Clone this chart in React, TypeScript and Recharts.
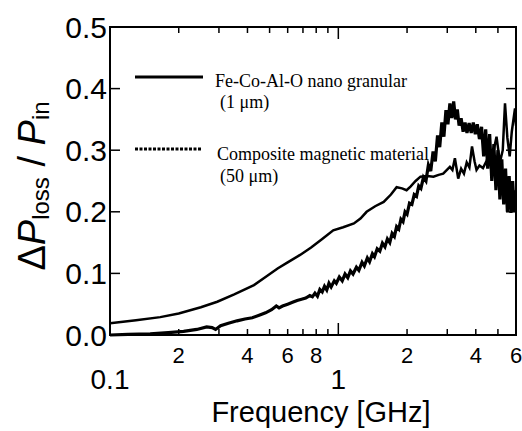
import React from "react";
import {
  LineChart,
  Line,
  XAxis,
  YAxis,
  ReferenceArea,
  Legend,
  Label,
} from "recharts";

// Fe-Co-Al-O nano granular (1 um) - smooth curve
const FREQ_A = [
  0.1, 0.13, 0.166, 0.2, 0.25, 0.295, 0.35, 0.427, 0.48, 0.542, 0.6, 0.68, 0.76,
  0.85, 0.95, 1.05, 1.17, 1.25, 1.33, 1.45, 1.58, 1.7, 1.8, 1.9, 1.99, 2.07, 2.18,
  2.29, 2.45, 2.61, 2.75, 2.88, 3.08, 3.16, 3.24, 3.35, 3.45, 3.55, 3.65, 3.75,
  3.85, 3.95, 4.03, 4.15, 4.3, 4.45, 4.6, 4.7, 4.93, 5.1, 5.25, 5.37, 5.5, 5.63,
  5.75, 5.94, 6.0,
];
const LOSS_A = [
  0.019, 0.024, 0.029, 0.035, 0.045, 0.054, 0.066, 0.081, 0.094, 0.108, 0.118,
  0.13, 0.142, 0.156, 0.17, 0.175, 0.181, 0.189, 0.2, 0.209, 0.216, 0.228, 0.24,
  0.238, 0.235, 0.241, 0.25, 0.257, 0.258, 0.257, 0.26, 0.262, 0.273, 0.268,
  0.287, 0.254, 0.27, 0.262, 0.28, 0.272, 0.306, 0.282, 0.268, 0.275, 0.271,
  0.282, 0.295, 0.285, 0.322, 0.28, 0.3, 0.376, 0.32, 0.29, 0.33, 0.368, 0.34,
];

// Composite magnetic material (50 um) - rippled curve
const FREQ_B = [
  0.1, 0.12, 0.15, 0.18, 0.21, 0.24, 0.265, 0.28, 0.29, 0.305, 0.33, 0.36, 0.39,
  0.42, 0.45, 0.48, 0.51, 0.535, 0.55, 0.57, 0.6, 0.63, 0.66, 0.69, 0.72, 0.75,
  0.77, 0.79, 0.81, 0.83, 0.85, 0.87, 0.89, 0.91, 0.93, 0.96, 0.98, 1.01, 1.04,
  1.07, 1.1, 1.13, 1.16, 1.2, 1.23, 1.27, 1.3, 1.34, 1.37, 1.41, 1.44, 1.48, 1.52,
  1.56, 1.6, 1.64, 1.68, 1.72, 1.76, 1.8, 1.84, 1.88, 1.92, 1.96, 2.0, 2.05, 2.1,
  2.15, 2.2, 2.25, 2.3, 2.36, 2.42, 2.48, 2.54, 2.6, 2.66, 2.72, 2.78, 2.84, 2.9,
  2.96, 3.02, 3.08, 3.14, 3.2, 3.26, 3.32, 3.38, 3.45, 3.52, 3.59, 3.66, 3.74,
  3.82, 3.9, 3.98, 4.06, 4.15, 4.24, 4.33, 4.42, 4.51, 4.6, 4.7, 4.8, 4.9, 5.0,
  5.1, 5.2, 5.3, 5.4, 5.5, 5.6, 5.7, 5.8, 5.9, 6.0,
];
const LOSS_B = [
  0.0, 0.001, 0.002, 0.004, 0.006, 0.009, 0.013, 0.012, 0.009, 0.015, 0.019,
  0.023, 0.026, 0.028, 0.032, 0.036, 0.041, 0.047, 0.044, 0.047, 0.05, 0.053,
  0.056, 0.058, 0.06, 0.064, 0.062, 0.068, 0.063, 0.074, 0.07, 0.079, 0.073,
  0.084, 0.078, 0.088, 0.084, 0.094, 0.088, 0.099, 0.093, 0.104, 0.099, 0.11,
  0.105, 0.118, 0.112, 0.125, 0.119, 0.132, 0.127, 0.14, 0.136, 0.149, 0.143,
  0.156, 0.15, 0.165, 0.16, 0.176, 0.172, 0.188, 0.184, 0.2, 0.196, 0.214, 0.212,
  0.228, 0.225, 0.242, 0.238, 0.256, 0.25, 0.276, 0.266, 0.298, 0.282, 0.324,
  0.305, 0.345, 0.322, 0.365, 0.342, 0.376, 0.352, 0.379, 0.35, 0.366, 0.34,
  0.352, 0.33, 0.345, 0.328, 0.344, 0.328, 0.345, 0.326, 0.342, 0.318, 0.338,
  0.29, 0.334, 0.27, 0.326, 0.25, 0.31, 0.235, 0.3, 0.22, 0.285, 0.212, 0.27,
  0.2, 0.258, 0.198, 0.25, 0.2, 0.235,
];

const X_TICKS = [0.1, 0.2, 0.3, 0.4, 0.5, 0.6, 0.7, 0.8, 0.9, 1, 2, 3, 4, 5, 6];
const X_LABELS = ["0.1", "2", "", "4", "", "6", "", "8", "", "1", "2", "", "4", "", "6"];
const X_MAJOR = [0.1, 1];
const Y_TICKS = [0, 0.1, 0.2, 0.3, 0.4, 0.5];

const dataA = FREQ_A.map((f, i) => ({ f, v: LOSS_A[i] }));
const dataB = FREQ_B.map((f, i) => ({ f, v: LOSS_B[i] }));

const W = 522;
const H = 431;
const PLOT_W = 406;
const PLOT_H = 308;
const SANS = "'Liberation Sans', Arial, Helvetica, sans-serif";
const SERIF = "'Liberation Serif', 'Times New Roman', serif";

function XTick(props: any) {
  const { x, y, payload } = props;
  const v = payload.value;
  const idx = X_TICKS.indexOf(v);
  const label = idx >= 0 ? X_LABELS[idx] : "";
  const major = X_MAJOR.includes(v);
  const len = major ? 12 : 6;
  return (
    <g>
      <line x1={x} x2={x} y1={y} y2={y - len} stroke="#000" strokeWidth={1.5} />
      <line x1={x} x2={x} y1={y - PLOT_H} y2={y - PLOT_H + len} stroke="#000" strokeWidth={1.5} />
      {label && (
        <text
          x={x}
          y={major ? y + 54 : y + 28}
          textAnchor="middle"
          fontFamily={SANS}
          fontSize={major ? 28 : 22}
          fill="#000"
        >
          {label}
        </text>
      )}
    </g>
  );
}

function YTick(props: any) {
  const { x, y, payload } = props;
  return (
    <g>
      <line x1={x} x2={x + 10} y1={y} y2={y} stroke="#000" strokeWidth={1.5} />
      <line x1={x + PLOT_W} x2={x + PLOT_W - 10} y1={y} y2={y} stroke="#000" strokeWidth={1.5} />
      <text
        x={x - 3}
        y={y}
        textAnchor="end"
        dominantBaseline="central"
        fontFamily={SANS}
        fontSize={30}
        fill="#000"
      >
        {payload.value.toFixed(1)}
      </text>
    </g>
  );
}

function YTitle() {
  return (
    <text
      x={45}
      y={186}
      transform="rotate(-90, 45, 186)"
      textAnchor="middle"
      fontFamily={SANS}
      fontSize={38}
      fill="#000"
    >
      Δ<tspan fontStyle="italic">P</tspan>
      <tspan fontSize={24} dy={4}>loss</tspan>
      <tspan dy={-4}> / </tspan>
      <tspan fontStyle="italic">P</tspan>
      <tspan fontSize={24} dy={4}>in</tspan>
    </text>
  );
}

function XTitle() {
  return (
    <text x={321} y={422} textAnchor="middle" fontFamily={SANS} fontSize={29} fill="#000">
      Frequency [GHz]
    </text>
  );
}

function LegendBox() {
  return (
    <svg width={W} height={200} style={{ display: "block" }}>
      <line x1={135} x2={203} y1={77} y2={77} stroke="#000" strokeWidth={3} />
      <text x={215} y={87} fontFamily={SERIF} fontSize={18} fill="#000">
        Fe-Co-Al-O nano granular
      </text>
      <text x={220} y={108} fontFamily={SERIF} fontSize={18} fill="#000">
        (1 μm)
      </text>
      <line
        x1={135}
        x2={202}
        y1={149}
        y2={149}
        stroke="#000"
        strokeWidth={3}
        strokeDasharray="3 1.5"
      />
      <text x={217} y={160} fontFamily={SERIF} fontSize={18} fill="#000">
        Composite magnetic material
      </text>
      <text x={220} y={182} fontFamily={SERIF} fontSize={18} fill="#000">
        (50 μm)
      </text>
    </svg>
  );
}

export default function App() {
  return (
    <div style={{ position: "absolute", left: 0, top: 0, background: "#fff" }}>
      <LineChart width={W} height={H} margin={{ top: 27, right: 6, bottom: 0, left: 0 }}>
        <XAxis
          xAxisId={0}
          type="number"
          dataKey="f"
          scale="log"
          domain={[0.1, 6]}
          allowDataOverflow
          ticks={X_TICKS}
          interval={0}
          tick={<XTick />}
          tickSize={0}
          tickMargin={0}
          tickLine={false}
          axisLine={false}
          height={96}
        >
          <Label content={<XTitle />} />
        </XAxis>
        <YAxis
          yAxisId={0}
          type="number"
          domain={[0, 0.5]}
          ticks={Y_TICKS}
          interval={0}
          tick={<YTick />}
          tickSize={0}
          tickMargin={0}
          tickLine={false}
          axisLine={false}
          width={110}
        >
          <Label content={<YTitle />} />
        </YAxis>
        <ReferenceArea
          x1={0.1}
          x2={6}
          y1={0}
          y2={0.5}
          fill="none"
          fillOpacity={0}
          stroke="#000"
          strokeWidth={2}
          ifOverflow="visible"
        />
        <Line
          data={dataA}
          dataKey="v"
          type="linear"
          stroke="#000"
          strokeWidth={2.5}
          dot={false}
          isAnimationActive={false}
        />
        <Line
          data={dataB}
          dataKey="v"
          type="linear"
          stroke="#000"
          strokeWidth={3.2}
          dot={false}
          isAnimationActive={false}
        />
        <Legend
          layout="vertical"
          align="center"
          verticalAlign="middle"
          content={<LegendBox />}
          wrapperStyle={{ left: 0, top: 0, width: W, height: 200 }}
        />
      </LineChart>
    </div>
  );
}
